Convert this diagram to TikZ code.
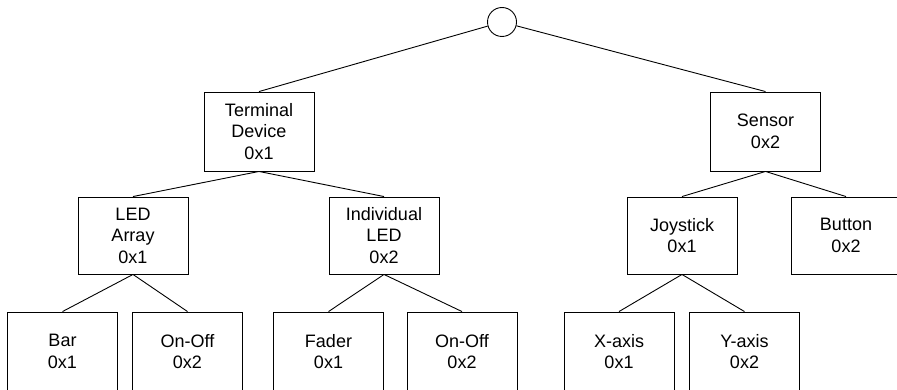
\documentclass[tikz,border=0pt]{standalone}
\usepackage{fontspec}
\setmainfont{Liberation Sans}
\begin{document}
\begin{tikzpicture}[x=1pt,y=1pt,
  box/.style={draw, line width=0.9pt, inner sep=0pt, minimum width=110pt, minimum height=79pt,
    align=center, font=\fontsize{18}{21.5}\selectfont},
  mbox/.style={box, minimum height=77pt},
  conn/.style={line width=0.9pt}]
\useasboundingbox (0,0) rectangle (897,389);
\clip (0,0) rectangle (897,389);
\node[draw, circle, line width=0.9pt, minimum size=29pt, inner sep=0pt] (root) at (502,367) {};
\node[box] (td) at (259,257.5) {Terminal\\Device\\0x1};
\node[box] (sensor) at (765.5,257.5) {Sensor\\0x2};
\node[mbox] (ledarr) at (133,153.5) {LED\\Array\\0x1};
\node[mbox] (indled) at (384,153.5) {Individual\\LED\\0x2};
\node[mbox] (joy) at (682,153.5) {Joystick\\0x1};
\node[mbox] (button) at (846,153.5) {Button\\0x2};
\node[box] (bar) at (62.5,37.5) {Bar\\0x1};
\node[box] (onoffa) at (187.5,37.5) {On-Off\\0x2};
\node[box] (fader) at (328.5,37.5) {Fader\\0x1};
\node[box] (onoffb) at (462,37.5) {On-Off\\0x2};
\node[box] (xaxis) at (619,37.5) {X-axis\\0x1};
\node[box] (yaxis) at (744.5,37.5) {Y-axis\\0x2};
\draw[conn] (root) -- (td.north);
\draw[conn] (root) -- (sensor.north);
\draw[conn] (td.south) -- (ledarr.north);
\draw[conn] (td.south) -- (indled.north);
\draw[conn] (sensor.south) -- (joy.north);
\draw[conn] (sensor.south) -- (button.north);
\draw[conn] (ledarr.south) -- (bar.north);
\draw[conn] (ledarr.south) -- (onoffa.north);
\draw[conn] (indled.south) -- (fader.north);
\draw[conn] (indled.south) -- (onoffb.north);
\draw[conn] (joy.south) -- (xaxis.north);
\draw[conn] (joy.south) -- (yaxis.north);
\end{tikzpicture}
\end{document}
